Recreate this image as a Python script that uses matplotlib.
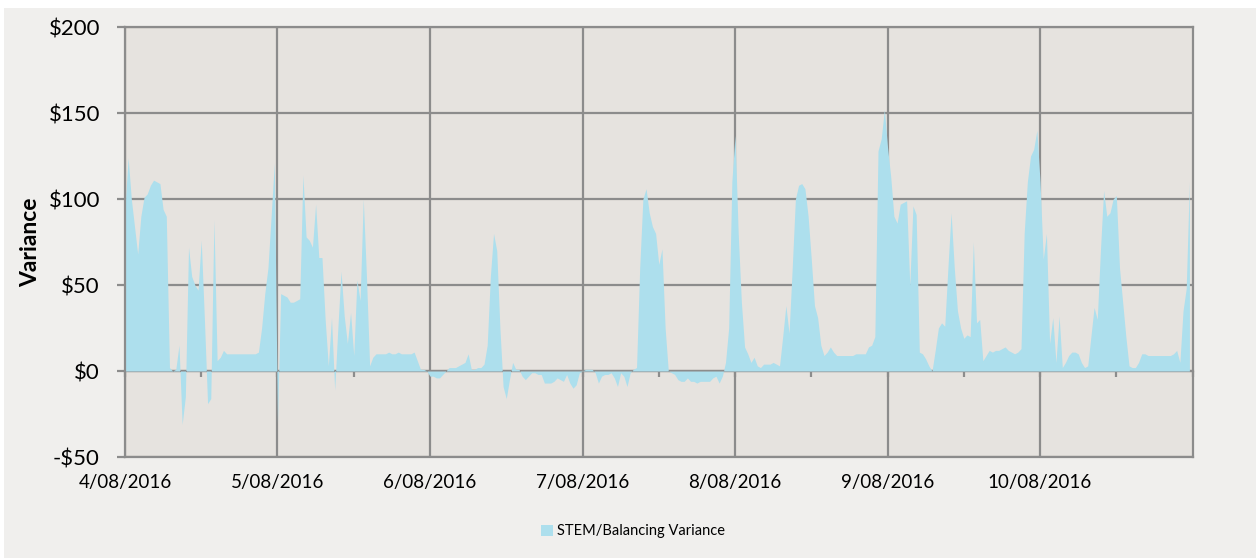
import pandas as pd
import matplotlib
matplotlib.use('Agg')
import matplotlib.pyplot as plt
import matplotlib.dates as mdates
from matplotlib.patches import Rectangle
from matplotlib.ticker import FuncFormatter

plt.rcParams['font.family'] = ['Lato', 'DejaVu Sans']

# half hourly variance ($), one list per day
day_04 = [95, 124, 100, 84, 68, 90, 101, 103, 108, 111, 110, 109, 94, 90, 2, 0, 1, 15, -31, -15,
          72, 55, 50, 47, 76, 30, -19, -16, 88, 6, 8, 12, 10, 10, 10, 10, 10, 10, 10, 10,
          10, 10, 11, 25, 45, 60, 90, 121]
day_05 = [-30, 45, 44, 43, 40, 40, 41, 42, 114, 78, 76, 72, 97, 66, 66, 30, 3, 31, -11, 25,
          58, 32, 16, 34, 9, 53, 41, 100, 55, 3, 8, 10, 10, 10, 10, 11, 10, 10, 11, 10,
          10, 10, 10, 11, 6, 1, 1, 0]
day_06 = [-3, -3, -4, -4, -2, 0, 2, 2, 2, 3, 4, 5, 10, 1, 1, 2, 2, 4, 15, 55,
          80, 70, 25, -9, -16, -5, 5, 1, 1, -3, -5, -3, -1, -1, -2, -2, -7, -7, -7, -6,
          -4, -5, -6, -2, -7, -10, -8, -1]
day_07 = [0, 1, 1, 1, -1, -7, -3, -2, -2, -1, -4, -9, -1, -3, -9, -1, 1, 2, 60, 100,
          106, 92, 84, 80, 62, 71, 25, 0, -1, -2, -5, -6, -6, -4, -6, -6, -7, -6, -6, -6,
          -6, -4, -3, -7, -3, 5, 25, 110]
day_08 = [137, 80, 40, 14, 10, 5, 8, 3, 2, 4, 4, 4, 5, 4, 3, 20, 38, 22, 60, 100,
          108, 109, 106, 90, 65, 38, 31, 15, 9, 11, 14, 11, 9, 9, 9, 9, 9, 9, 10, 10,
          10, 10, 14, 15, 20, 128, 135, 152]
day_09 = [130, 113, 90, 86, 97, 98, 99, 50, 96, 91, 11, 10, 7, 3, 0, 12, 25, 28, 26, 60,
          92, 60, 35, 25, 19, 21, 20, 75, 28, 30, 6, 9, 12, 11, 12, 12, 13, 14, 12, 11,
          10, 11, 13, 80, 110, 125, 129, 140]
day_10 = [110, 65, 80, 16, 31, 5, 32, 2, 5, 9, 11, 11, 10, 5, 2, 3, 20, 37, 30, 70,
          105, 90, 92, 100, 102, 60, 40, 20, 3, 2, 2, 5, 10, 10, 9, 9, 9, 9, 9, 9,
          9, 9, 10, 12, 5, 35, 48, 110]

variance = day_04 + day_05 + day_06 + day_07 + day_08 + day_09 + day_10
times = pd.date_range('2016-08-04', periods=len(variance), freq='30min')

day_ticks = pd.date_range('2016-08-04', periods=7, freq='D')
day_labels = ['4/08/2016', '5/08/2016', '6/08/2016', '7/08/2016', '8/08/2016', '9/08/2016', '10/08/2016']
half_ticks = pd.date_range('2016-08-04', periods=15, freq='12h')
y_ticks = [-50, 0, 50, 100, 150, 200]

fill_col = '#ADDFED'
grid_col = '#8C8C8C'
panel_col = '#F0EFED'
plot_col = '#E6E3DF'

fig = plt.figure(figsize=(12.56, 5.58), dpi=100, facecolor='white')
fig.add_artist(Rectangle((4 / 1256, 0), 1, 1 - 8 / 558, transform=fig.transFigure,
                         facecolor=panel_col, edgecolor='none', zorder=-5))
ax = fig.add_axes([0.0995, 0.181, 0.8500, 0.7705])
ax.set_facecolor(plot_col)

ax.fill_between(times, 0, variance, color=fill_col, linewidth=0, zorder=2,
                label='STEM/Balancing Variance')

ax.set_xlim(pd.Timestamp('2016-08-04'), pd.Timestamp('2016-08-11'))
ax.set_ylim(-50, 200)
ax.set_xticks(day_ticks)
ax.set_xticklabels(day_labels)
ax.set_yticks(y_ticks)
ax.yaxis.set_major_formatter(FuncFormatter(lambda v, p: ('-$%d' % -v) if v < 0 else '$%d' % v))
ax.grid(True, color=grid_col, linewidth=1.6, zorder=1)
ax.set_axisbelow(True)
for s in ax.spines.values():
    s.set_color(grid_col)
    s.set_linewidth(1.6)
ax.tick_params(axis='x', length=0, pad=12, labelsize=13.5)
ax.tick_params(axis='y', length=6, width=1.6, color=grid_col, pad=12, labelsize=16)
ax.set_ylabel('Variance', fontsize=16.5, fontweight='bold', labelpad=5)

# horizontal axis line crossing at zero, with its tick marks
zero_pos = (0 - y_ticks[0]) / (y_ticks[-1] - y_ticks[0])
sec = ax.secondary_xaxis(zero_pos)
sec.set_xticks(half_ticks)
sec.set_xticklabels([''] * len(half_ticks))
sec.tick_params(axis='x', direction='out', length=4, width=1.6, color=grid_col)
for s in sec.spines.values():
    s.set_color(grid_col)
    s.set_linewidth(1.6)

fig.legend(loc='center', bbox_to_anchor=(0.504, 0.048), frameon=False, fontsize=10.5,
           handlelength=0.8, handleheight=0.8, handletextpad=0.3)

fig.savefig('out.png', dpi=100)
